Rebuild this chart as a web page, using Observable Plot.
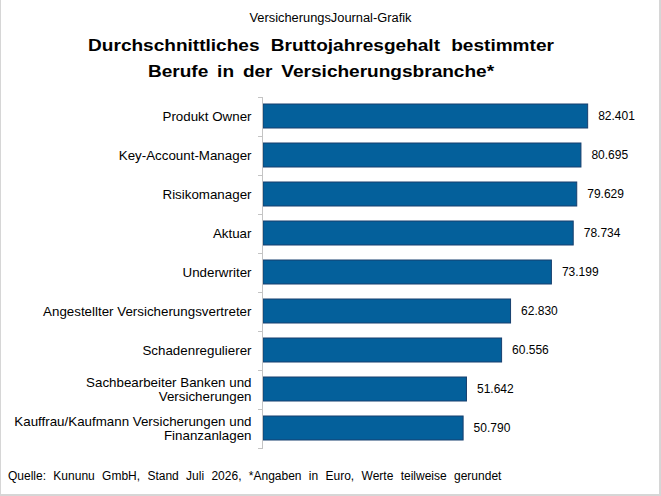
<!DOCTYPE html>
<html>
<head>
<meta charset="utf-8">
<script src="https://cdn.jsdelivr.net/npm/d3@7"></script>
<script src="https://cdn.jsdelivr.net/npm/@observablehq/plot@0.6"></script>
<style>
  html, body { margin: 0; padding: 0; background: #fff; }
  #frame { position: relative; width: 661px; height: 496px; overflow: hidden;
           font-family: "Liberation Sans", Arial, sans-serif; color: #000; background: #fff; }
  #chart { position: absolute; left: 0; top: 0; }
  .line { position: absolute; white-space: nowrap; }
  .center { left: 0; text-align: center; transform-origin: 50% 50%; }
  .edge { position: absolute; background: #d6d6d6; }
</style>
</head>
<body>
<div id="frame">
  <div id="chart"></div>
  <div class="line center" style="width:661px; top:11px; font-size:12px; transform:scaleX(1.07);">VersicherungsJournal-Grafik</div>
  <div class="line center" style="width:642px; top:37px; font-size:16px; font-weight:bold; word-spacing:5px; transform:scaleX(1.19);">Durchschnittliches Bruttojahresgehalt bestimmter</div>
  <div class="line center" style="width:642px; top:63px; font-size:16px; font-weight:bold; word-spacing:3px; transform:scaleX(1.19);">Berufe in der Versicherungsbranche*</div>
  <div class="line" style="left:8px; top:469px; font-size:12px; word-spacing:4px;">Quelle: Kununu GmbH, Stand Juli 2026, *Angaben in Euro, Werte teilweise gerundet</div>
  <div class="edge" style="left:0; top:0; width:1px; height:496px;"></div>
  <div class="edge" style="right:0; top:0; width:2px; height:496px;"></div>
  <div class="edge" style="left:0; bottom:0; width:661px; height:2px;"></div>
</div>
<script>
// Average gross annual salary per job (EUR)
const jobs = [
  "Produkt Owner",
  "Key-Account-Manager",
  "Risikomanager",
  "Aktuar",
  "Underwriter",
  "Angestellter Versicherungsvertreter",
  "Schadenregulierer",
  "Sachbearbeiter Banken und Versicherungen",
  "Kauffrau/Kaufmann Versicherungen und Finanzanlagen"
];
const jobLabels = [
  "Produkt Owner",
  "Key-Account-Manager",
  "Risikomanager",
  "Aktuar",
  "Underwriter",
  "Angestellter Versicherungsvertreter",
  "Schadenregulierer",
  "Sachbearbeiter Banken und\nVersicherungen",
  "Kauffrau/Kaufmann Versicherungen und\nFinanzanlagen"
];
const salaries = [82401, 80695, 79629, 78734, 73199, 62830, 60556, 51642, 50790];

const data = jobs.map((job, i) => ({ job, label: jobLabels[i], salary: salaries[i] }));

const de = d3.formatLocale({ decimal: ",", thousands: ".", grouping: [3], currency: ["", " €"] });
const fmt = de.format(",d");

const axisColor = "#c4c4c4";

// Category axis: vertical line plus small ticks between the bands
function bandAxis(index, scales, values, dimensions) {
  const y = scales.y;
  const step = y(jobs[1]) - y(jobs[0]);
  const bw = typeof y.bandwidth === "function" ? y.bandwidth() : step * 0.62;
  const gap = step - bw;
  const x0 = dimensions.marginLeft - 1;
  const bounds = jobs.map(j => y(j) - gap / 2);
  bounds.push(y(jobs[jobs.length - 1]) + bw + gap / 2);
  const g = d3.create("svg:g").attr("stroke", axisColor).attr("shape-rendering", "crispEdges");
  g.append("line")
    .attr("x1", x0 + 0.5).attr("x2", x0 + 0.5)
    .attr("y1", bounds[0]).attr("y2", bounds[bounds.length - 1]);
  g.selectAll("line.tick").data(bounds).join("line")
    .attr("class", "tick")
    .attr("x1", x0 - 4).attr("x2", x0 + 0.5)
    .attr("y1", d => Math.round(d) + 0.5).attr("y2", d => Math.round(d) + 0.5);
  return g.node();
}

const chart = Plot.plot({
  width: 661,
  height: 496,
  marginLeft: 263,
  marginRight: 4,
  marginTop: 96,
  marginBottom: 47,
  style: { fontFamily: '"Liberation Sans", Arial, sans-serif', background: "transparent", color: "#000" },
  x: { domain: [0, 100000], axis: null },
  y: { domain: jobs, axis: null, paddingInner: 0.38, paddingOuter: 0.19, align: 0.5 },
  marks: [
    Plot.barX(data, { x: "salary", y: "job", fill: "#04609b", stroke: "#173f6e", strokeWidth: 1 }),
    Plot.text(data, { x: "salary", y: "job", text: d => fmt(d.salary), dx: 10, textAnchor: "start", fontSize: 12, fill: "#000" }),
    Plot.text(data, { x: 0, y: "job", text: "label", textAnchor: "end", dx: -12, fontSize: 13.35, lineHeight: 1.05, fill: "#000", ariaLabel: "category-labels" }),
    bandAxis
  ]
});

document.getElementById("chart").append(chart);

// Center the lines of wrapped category labels within their block
chart.querySelectorAll('g[aria-label="category-labels"] text').forEach(t => {
  const spans = Array.from(t.querySelectorAll("tspan"));
  if (spans.length < 2) return;
  const widths = spans.map(s => s.getComputedTextLength());
  const maxW = Math.max(...widths);
  spans.forEach((s, i) => s.setAttribute("dx", -(maxW - widths[i]) / 2));
});
</script>
</body>
</html>
